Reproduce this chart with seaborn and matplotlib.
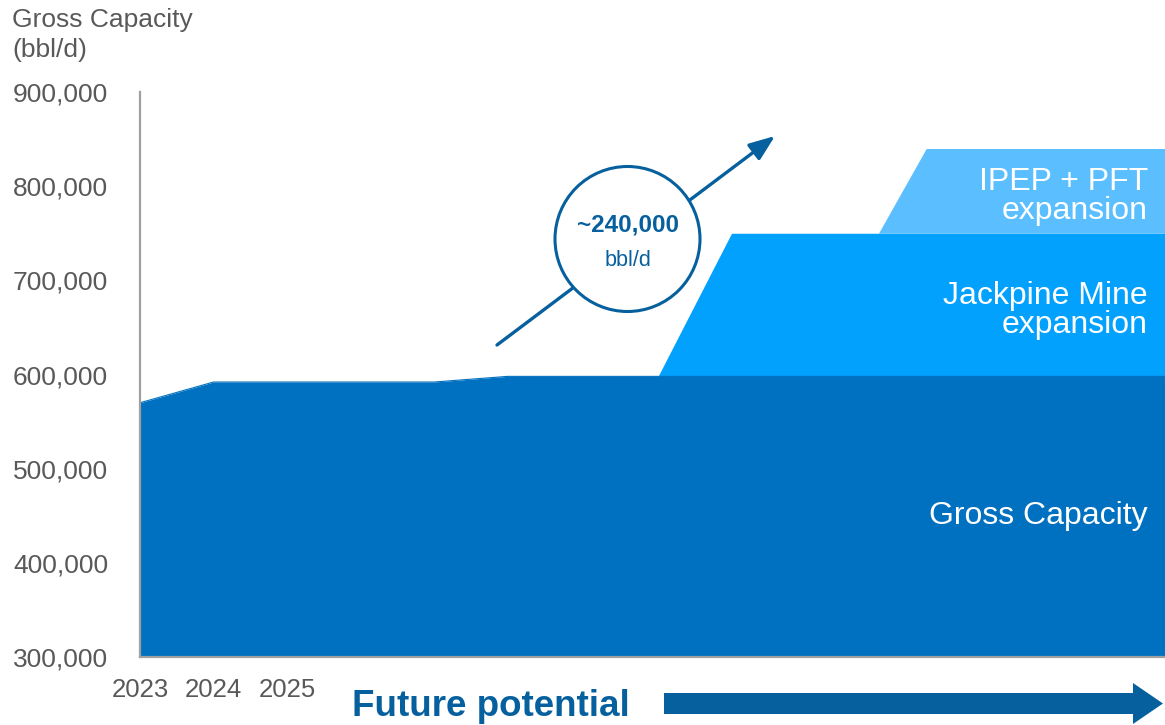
import numpy as np
import pandas as pd
import seaborn as sns
import matplotlib
matplotlib.use("Agg")
import matplotlib.pyplot as plt
from matplotlib.patches import Circle, Polygon
from matplotlib.transforms import IdentityTransform

# ---- data ----
gross_x = [2023.0, 2024.0, 2027.0, 2028.0, 2036.95]
gross_y = [570000, 592000, 592000, 598000, 598000]

jackpine_x = [2030.05, 2031.05, 2036.95]
jackpine_top = [598000, 750000, 750000]
jackpine_base = 598000

ipep_x = [2033.05, 2033.7, 2036.95]
ipep_top = [750000, 840000, 840000]
ipep_base = 750000

year_ticks = [2023, 2024, 2025]
year_labels = ["2023", "2024", "2025"]
y_ticks = [300000, 400000, 500000, 600000, 700000, 800000, 900000]

C_GROSS = "#0070C0"
C_JACK = "#03A1FE"
C_IPEP = "#5BBFFF"
C_DARK = "#07609E"
C_GRAY = "#595959"

sns.set_theme(style="white")
plt.rcParams["font.family"] = ["Liberation Sans", "DejaVu Sans"]

W, H = 1165, 725
fig = plt.figure(figsize=(W / 100, H / 100), dpi=100)
ax = fig.add_axes([140 / W, (H - 657) / H, 1 - 140 / W, (657 - 92) / H])

# areas
ax.fill_between(gross_x, 300000, gross_y, color=C_GROSS, lw=0, zorder=2)
ax.fill_between(jackpine_x, jackpine_base, jackpine_top, color=C_JACK, lw=0, zorder=2)
ax.fill_between(ipep_x, ipep_base, ipep_top, color=C_IPEP, lw=0, zorder=2)
sns.lineplot(x=gross_x, y=gross_y, ax=ax, color=C_GROSS, lw=0.8, zorder=3)

ax.set_xlim(2023, 2036.95)
ax.set_ylim(300000, 900000)
ax.set_xticks(year_ticks)
ax.set_xticklabels(year_labels)
ax.set_yticks(y_ticks)
ax.set_yticklabels([f"{v:,}" for v in y_ticks])
ax.tick_params(axis="x", length=0, pad=15, labelsize=18.5, labelcolor=C_GRAY)
ax.tick_params(axis="y", length=0, pad=23, labelsize=19, labelcolor=C_GRAY)
for lab in ax.get_yticklabels():
    lab.set_horizontalalignment("right")

for s in ["top", "right"]:
    ax.spines[s].set_visible(False)
for s in ["left", "bottom"]:
    ax.spines[s].set_color("#A0A0A0")
    ax.spines[s].set_linewidth(1.6)
    ax.spines[s].set_zorder(4)
ax.grid(False)

# axis title
fig.text(12 / W, 1 - 20 / H, "Gross Capacity", ha="left", va="center",
         fontsize=19, color=C_GRAY)
fig.text(12 / W, 1 - 50 / H, "(bbl/d)", ha="left", va="center",
         fontsize=19, color=C_GRAY)

# area labels
lab_kw = dict(ha="right", va="center", fontsize=23, color="white", linespacing=0.98, zorder=5)
ax.text(2036.72, 789000, "IPEP + PFT\nexpansion", **lab_kw)
ax.text(2036.72, 668000, "Jackpine Mine\nexpansion", **lab_kw)
ax.text(2036.72, 450000, "Gross Capacity", **lab_kw)

# growth arrow + circle
ax.annotate("", xy=(775, H - 136), xycoords="figure pixels",
            xytext=(497, H - 345), textcoords="figure pixels",
            arrowprops=dict(arrowstyle="-|>,head_length=1.3,head_width=0.5",
                            color=C_DARK, lw=2.4, shrinkA=0, shrinkB=0))
circ = Circle((627.5, H - 239), 72.5, transform=IdentityTransform(),
              facecolor="white", edgecolor=C_DARK, lw=2.2, zorder=10)
fig.add_artist(circ)
fig.text(627.5 / W, 1 - 225 / H, "~240,000", ha="center", va="center",
         fontsize=17.5, fontweight="bold", color=C_DARK, zorder=11)
fig.text(627.5 / W, 1 - 260 / H, "bbl/d", ha="center", va="center",
         fontsize=15.5, color=C_DARK, zorder=11)

# future potential
fig.text(352 / W, 1 - 706 / H, "Future potential", ha="left", va="center",
         fontsize=26.5, fontweight="bold", color=C_DARK)
arrow_pts = [(664, H - 693), (1133, H - 693), (1133, H - 683), (1163, H - 703.5),
             (1133, H - 724), (1133, H - 714), (664, H - 714)]
fig.add_artist(Polygon(arrow_pts, closed=True, transform=IdentityTransform(),
                       facecolor=C_DARK, edgecolor="none"))

fig.savefig("out.png", dpi=100)
